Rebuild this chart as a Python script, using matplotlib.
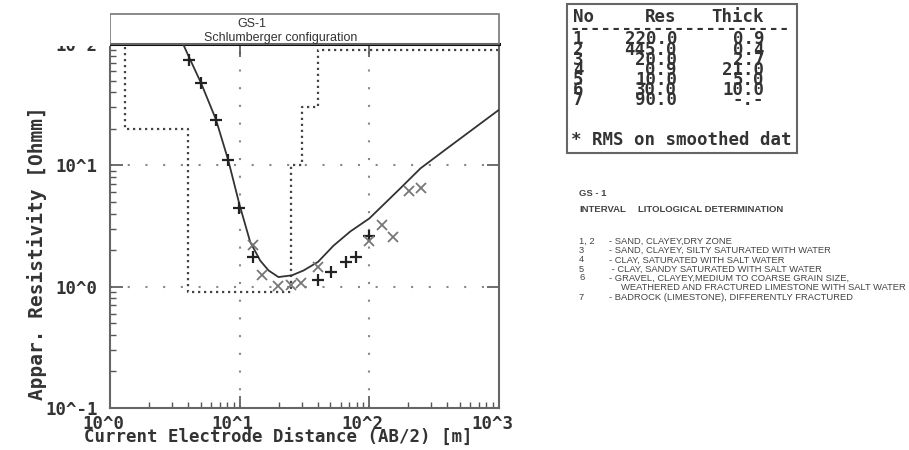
import numpy as np
import matplotlib
matplotlib.use("Agg")
import matplotlib.pyplot as plt
from matplotlib.patches import Rectangle
from matplotlib.transforms import ScaledTranslation

# layered model (table values)
layer_no = ["1", "2", "3", "4", "5", "6", "7"]
layer_res = [220.0, 445.0, 20.0, 0.9, 10.0, 30.0, 90.0]
layer_thick = [0.9, 0.4, 2.7, 21.0, 5.0, 10.0]

# fitted curve
curve_ab2 = [3.6, 4.1, 5.04, 6.55, 8.15, 9.96, 12.05, 14.4, 16.7, 19.9,
             25.3, 31.1, 40.2, 53.0, 71.3, 100, 173, 248, 398, 1000]
curve_rho = [104, 76.6, 47.6, 24.0, 11.1, 4.76, 2.34, 1.64, 1.36, 1.20,
             1.24, 1.36, 1.60, 2.18, 2.85, 3.65, 6.45, 9.44, 13.8, 28.7]

# field data
plus_ab2 = [4.1, 5.04, 6.55, 8.15, 9.96, 12.7, 40.2, 50.9, 65.9, 79.4, 100]
plus_rho = [73.8, 47.6, 23.5, 11.1, 4.48, 1.75, 1.14, 1.32, 1.61, 1.75, 2.61]
cross_ab2 = [12.7, 14.9, 19.9, 25.1, 29.9, 40.0, 100, 125, 153, 201, 251]
cross_rho = [2.22, 1.24, 1.01, 1.03, 1.07, 1.44, 2.40, 3.24, 2.57, 6.13, 6.46]

x_ticks = [1, 10, 100, 1000]
x_labels = ["10^0", "10^1", "10^2", "10^3"]
y_ticks = [0.1, 1, 10, 100]
y_labels = ["10^-1", "10^0", "10^1", "10^2"]

litho_intervals = ["1, 2", "3", "4", "5", "6", "", "7"]
litho_text = [
    "- SAND, CLAYEY,DRY ZONE",
    "- SAND, CLAYEY, SILTY SATURATED WITH WATER",
    "- CLAY, SATURATED WITH SALT WATER",
    " - CLAY, SANDY SATURATED WITH SALT WATER",
    "- GRAVEL, CLAYEY,MEDIUM TO COARSE GRAIN SIZE,",
    "WEATHERED AND FRACTURED LIMESTONE WITH SALT WATER",
    "- BADROCK (LIMESTONE), DIFFERENTLY FRACTURED",
]

W, H = 909, 450
MONO = dict(family="DejaVu Sans Mono", fontweight="bold", color="#333333")


def px(x, y):
    return x / W, 1 - y / H


fig = plt.figure(figsize=(W / 100, H / 100), dpi=100)
ax = fig.add_axes([110 / W, 1 - 408 / H, 389 / W, 364 / H])
ax.set_xscale("log")
ax.set_yscale("log")
ax.set_xlim(1, 1000)
ax.set_ylim(0.1, 100)

# model steps
bounds = [0.1] + list(np.cumsum(layer_thick)) + [1e4]
ax.step(bounds, layer_res + [layer_res[-1]], where="post", color="#444444",
        lw=1.6, linestyle=(0, (1, 1.7)), zorder=2)
ax.plot(curve_ab2, curve_rho, color="#333333", lw=1.3, zorder=3)
ax.plot(plus_ab2, plus_rho, linestyle="none", marker="+", ms=9, mew=1.6,
        color="#222222", zorder=4)
ax.plot(cross_ab2, cross_rho, linestyle="none", marker="x", ms=7, mew=1.3,
        color="#777777", zorder=4)

for v in [10, 100]:
    ax.axvline(v, color="#888888", lw=1.5, linestyle=(0, (1, 7.5)), zorder=1)
for v in [1, 10]:
    ax.axhline(v, color="#888888", lw=1.5, linestyle=(0, (1, 7.5)), zorder=1)

ax.set_xticks(x_ticks)
ax.set_xticklabels(x_labels, **MONO, fontsize=12.5)
ax.set_yticks(y_ticks)
ax.set_yticklabels(y_labels, **MONO, fontsize=12.5)
ax.tick_params(which="both", direction="in", top=True, right=True, color="#555555")
ax.tick_params(which="major", length=9, width=1.2)
ax.tick_params(which="minor", length=4, width=1, top=False, right=False)
ax.tick_params(axis="x", which="major", pad=5)
ax.tick_params(axis="y", which="major", pad=9)
ax.xaxis.set_minor_formatter(plt.NullFormatter())
ax.yaxis.set_minor_formatter(plt.NullFormatter())
shift = ScaledTranslation(-0.07, 0, fig.dpi_scale_trans)
for lab in ax.get_xticklabels():
    lab.set_transform(lab.get_transform() + shift)

for side in ["left", "bottom", "right"]:
    ax.spines[side].set_color("#666666")
    ax.spines[side].set_linewidth(1.5)
ax.spines["top"].set_color("#111111")
ax.spines["top"].set_linewidth(2.2)

# title box
x0, y0 = px(110, 44)
fig.add_artist(Rectangle((x0, y0), 389 / W, 30 / H, transform=fig.transFigure,
                         fill=False, ec="#777777", lw=1.2))
fig.add_artist(Rectangle(px(35, 45.5), 75 / W, 45.5 / H, transform=fig.transFigure,
                         fc="white", ec="none", zorder=5))
fig.text(*px(252, 24), "GS-1", ha="center", va="center", fontsize=9,
         family="Liberation Sans", color="#333333")
fig.text(*px(281, 37.5), "Schlumberger configuration", ha="center", va="center",
         fontsize=9, family="Liberation Sans", color="#333333")

fig.text(*px(278, 438), "Current Electrode Distance (AB/2) [m]", ha="center",
         va="center", fontsize=12.5, **MONO)
fig.text(*px(37, 253), "Appar. Resistivity [Ohmm]", ha="center", va="center",
         rotation=90, fontsize=14, **MONO)

# parameter table
fig.add_artist(Rectangle(px(566.5, 152.5), 230 / W, 148.5 / H, transform=fig.transFigure,
                         fill=False, ec="#666666", lw=1.5))
fig.text(*px(573, 17), "No", va="center", fontsize=12.5, **MONO)
fig.text(*px(645, 17), "Res", va="center", fontsize=12.5, **MONO)
fig.text(*px(711, 17), "Thick", va="center", fontsize=12.5, **MONO)
fig.text(*px(570, 29), "-" * 21, va="center", fontsize=12.5, **MONO)
thick_txt = [f"{t:.1f}" for t in layer_thick] + ["-.-"]
for i, (n, r, t) in enumerate(zip(layer_no, layer_res, thick_txt)):
    yy = 39.5 + i * 10.1
    fig.text(*px(578, yy), n, ha="center", va="center", fontsize=12.5, **MONO)
    fig.text(*px(677, yy), f"{r:.1f}", ha="right", va="center", fontsize=12.5, **MONO)
    fig.text(*px(764, yy), t, ha="right", va="center", fontsize=12.5, **MONO)
fig.text(*px(571, 140), "* RMS on smoothed dat", va="center", fontsize=12.5, **MONO)

# lithology notes
SANS = dict(family="Liberation Sans", color="#444444")
fig.text(*px(579, 193), "GS - 1", va="center", fontsize=6.8, fontweight="bold", **SANS)
fig.text(*px(579, 210), "INTERVAL", va="center", fontsize=6.8, fontweight="bold", **SANS)
fig.text(*px(638, 210), "LITOLOGICAL DETERMINATION", va="center", fontsize=6.8,
         fontweight="bold", **SANS)
row_y = [241, 250.5, 260, 269, 278, 287.5, 298]
for iv, txt, yy in zip(litho_intervals, litho_text, row_y):
    if iv:
        fig.text(*px(579, yy), iv, va="center", fontsize=6.75, **SANS)
    xx = 621 if txt.startswith("WEATHERED") else 609
    fig.text(*px(xx, yy), txt, va="center", fontsize=6.75, **SANS)

fig.savefig("out.png", dpi=100)
